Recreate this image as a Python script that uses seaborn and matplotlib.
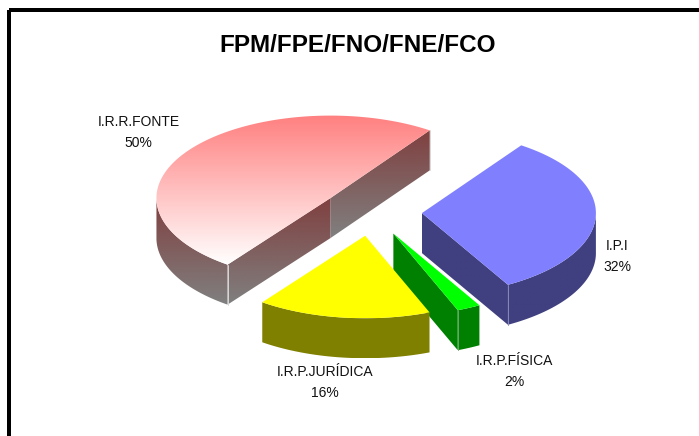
import numpy as np
import matplotlib
matplotlib.use('Agg')
import matplotlib.pyplot as plt
from matplotlib.patches import Polygon, Rectangle
import seaborn as sns

# dados (sentido horario a partir do I.P.I)
labels = ['I.P.I', 'I.R.P.FÍSICA', 'I.R.P.JURÍDICA', 'I.R.R.FONTE']
values = [32.1, 2.2, 16.1, 49.6]
pct_labels = ['32%', '2%', '16%', '50%']

# cores: topo (inicio, fim) e lateral (inicio, fim)
top_colors = [('#8080ff', '#8080ff'), ('#00ff00', '#00ff00'), ('#ffff00', '#ffff00'), ('#ff8080', '#ffffff')]
side_colors = [('#404080', '#404080'), ('#008000', '#008000'), ('#808000', '#808000'), ('#804040', '#808080')]
edge_light = ['#8888bb', '#66aa66', '#808000', '#d8d8d8']

label_pos = [(617.5, 256.5), (514, 371.5), (325, 382.5), (138.5, 132.5)]

# geometria da pizza em pixels
CX, CY = 371.5, 212
A, B = 174, 82.5
DEPTH = 40
EXPLODE = 0.29
START = 55.2

sns.set_theme(style='white')
plt.rcParams['font.family'] = ['Liberation Sans', 'DejaVu Sans']

fig = plt.figure(figsize=(6.99, 4.36), dpi=100, facecolor='white')
ax = fig.add_axes([0, 0, 1, 1])


def fill_gradient(pts, colors):
    # preenche um poligono com gradiente vertical
    pts = np.array(pts)
    cmap = sns.blend_palette(list(colors), n_colors=128, as_cmap=True)
    grad = np.linspace(0, 1, 128).reshape(-1, 1)
    x0, x1 = pts[:, 0].min(), pts[:, 0].max()
    y0, y1 = pts[:, 1].min(), pts[:, 1].max()
    im = ax.imshow(grad, cmap=cmap, extent=(x0, x1, y1, y0), aspect='auto', vmin=0, vmax=1,
                   interpolation='bilinear', zorder=2)
    clip = Polygon(pts, closed=True, transform=ax.transData)
    im.set_clip_path(clip)


def ell(cx, cy, t):
    return np.column_stack([cx + A * np.cos(t), cy - B * np.sin(t)])


t_hi = np.deg2rad(START)
for i, val in enumerate(values):
    t_lo = t_hi - np.deg2rad(val * 3.6)
    mid = (t_hi + t_lo) / 2
    cx = CX + EXPLODE * A * np.cos(mid)
    cy = CY - EXPLODE * B * np.sin(mid)

    # borda externa visivel (parte da frente da elipse)
    t = np.linspace(t_lo, t_hi, 200)
    front = t[np.sin(t) <= 0]
    if len(front) > 1:
        arc = ell(cx, cy, front)
        side = np.vstack([arc, (arc + [0, DEPTH])[::-1]])
        fill_gradient(side, side_colors[i])

    # faces do corte
    for tb, visible in ((t_lo, np.cos(t_lo) > 0), (t_hi, np.cos(t_hi) < 0)):
        if visible:
            p = ell(cx, cy, np.array([tb]))[0]
            fill_gradient([(cx, cy), p, p + [0, DEPTH], (cx, cy + DEPTH)], side_colors[i])
            ax.plot([p[0], p[0]], [p[1], p[1] + DEPTH], color=edge_light[i], lw=0.7, zorder=3)

    # topo
    top = np.vstack([[(cx, cy)], ell(cx, cy, t)])
    fill_gradient(top, top_colors[i])

    ax.text(label_pos[i][0], label_pos[i][1], labels[i] + '\n' + pct_labels[i], ha='center', va='center',
            fontsize=10, color='#111111', linespacing=1.6, zorder=5)
    t_hi = t_lo

ax.text(357.5, 46, 'FPM/FPE/FNO/FNE/FCO', ha='center', va='center', fontsize=17.5, fontweight='bold', color='black')

# moldura (so esquerda e topo aparecem)
ax.add_patch(Rectangle((9, 10), 700, 440, fill=False, edgecolor='black', lw=2.88, zorder=6))

ax.set_xlim(0, 699)
ax.set_ylim(436, 0)
ax.axis('off')
fig.savefig('out.png', dpi=100, facecolor='white')
